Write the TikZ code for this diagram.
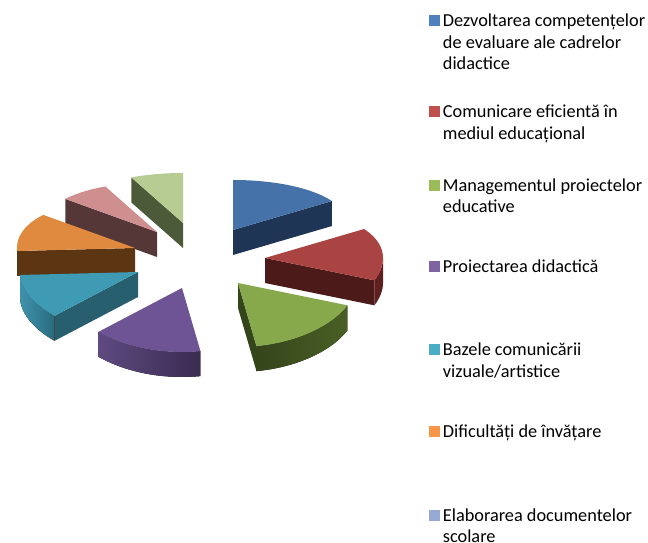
\documentclass[tikz,border=0pt]{standalone}
\usepackage{fontspec}
\setmainfont{Carlito}
\usetikzlibrary{positioning}
\definecolor{lblue}{HTML}{4F81BD}\definecolor{lred}{HTML}{C0504D}\definecolor{lgreen}{HTML}{9BBB59}
\definecolor{lpurple}{HTML}{8064A2}\definecolor{lteal}{HTML}{4BACC6}\definecolor{lorange}{HTML}{F79646}
\definecolor{lpale}{HTML}{95A9D3}
\definecolor{tblue}{HTML}{4672AA}\definecolor{dblue}{HTML}{1F3556}
\definecolor{tred}{HTML}{A94443}\definecolor{dred}{HTML}{4B1A19}\definecolor{rred}{HTML}{5E1F1E}
\definecolor{tgreen}{HTML}{88A84C}\definecolor{dgreen}{HTML}{34451B}\definecolor{rgreen}{HTML}{4A5F25}
\definecolor{tpurple}{HTML}{6E5494}\definecolor{rpurplea}{HTML}{5E4A80}\definecolor{rpurpleb}{HTML}{3A2B50}
\definecolor{tteal}{HTML}{3E9BB3}\definecolor{dteal}{HTML}{285F6E}\definecolor{rteala}{HTML}{3D93AB}\definecolor{rtealb}{HTML}{2A6A7C}
\definecolor{torange}{HTML}{E08A40}\definecolor{dorange}{HTML}{5C3513}
\definecolor{tpink}{HTML}{CE8F8E}\definecolor{dpink}{HTML}{553738}
\definecolor{tpale}{HTML}{B6CC92}\definecolor{dpale}{HTML}{4D5A3A}
% pieces of an exploded slice: apex x, apex y, angles, colour
\newcommand{\slicetop}[5]{\fill[#5] (#1,#2) -- plot[domain=#3:#4,samples=40] ({#1+118*cos(\x)},{#2+sin(\x)*(57-7*sin(\x))}) -- cycle;}
\newcommand{\slicerim}[5]{\fill[#5] plot[domain=#3:#4,samples=40] ({#1+118*cos(\x)},{#2+sin(\x)*(57-7*sin(\x))})
  -- plot[domain=#4:#3,samples=40] ({#1+118*cos(\x)},{#2-25+sin(\x)*(57-7*sin(\x))}) -- cycle;}
\newcommand{\slicecut}[4]{\fill[#4] (#1,#2) -- ({#1+118*cos(#3)},{#2+sin(#3)*(57-7*sin(#3))}) -- ++(0,-25) -- ({#1},{#2-25}) -- cycle;}
\begin{document}
\begin{tikzpicture}[x=1pt,y=1pt,
    key/.style={minimum size=11pt,inner sep=0pt},
    lbl/.style={align=left,inner sep=0pt,anchor=north west,font=\fontsize{18.3}{21.7}\selectfont}]
  \useasboundingbox (0,0) rectangle (648,543);
  \begin{scope}[shift={(200,287)}]
    \slicecut{-17}{33}{116}{dpale} \slicetop{-17}{33}{90}{116}{tpale}
    \slicecut{33}{26}{33}{dblue} \slicetop{33}{26}{33}{90}{tblue}
    \slicecut{-43}{24}{141}{dpink} \slicetop{-43}{24}{116}{141}{tpink}
    \slicecut{-65}{8}{183}{dorange} \slicerim{-65}{8}{180}{183}{dorange} \slicetop{-65}{8}{141}{183}{torange}
    \slicecut{65}{-2}{338}{dred} \slicerim{65}{-2}{338}{360}{rred} \slicetop{65}{-2}{338}{393}{tred}
    \slicecut{-62}{-16}{225}{dteal} \slicerim{-62}{-16}{183}{225}{left color=rteala,right color=rtealb} \slicetop{-62}{-16}{183}{225}{tteal}
    \slicecut{38}{-27}{279}{dgreen} \slicerim{38}{-27}{279}{338}{left color=dgreen,right color=rgreen} \slicetop{38}{-27}{279}{338}{tgreen}
    \slicerim{-18}{-32}{225}{279}{left color=rpurplea,right color=rpurpleb} \slicetop{-18}{-32}{225}{279}{tpurple}
  \end{scope}
  \node[key,fill=lblue] (k1) at (434,522.5) {}; \node[lbl] (t1) at ([xshift=3pt,yshift=7pt]k1.east) {Dezvoltarea competențelor\\de evaluare ale cadrelor\\didactice};
  \node[key,fill=lred] (k2) at (434,431.5) {}; \node[lbl] (t2) at ([xshift=3pt,yshift=7pt]k2.east) {Comunicare eficientă în\\mediul educațional};
  \node[key,fill=lgreen] (k3) at (434,357.7) {}; \node[lbl] (t3) at ([xshift=3pt,yshift=7pt]k3.east) {Managementul proiectelor\\educative};
  \node[key,fill=lpurple] (k4) at (434,276) {}; \node[lbl] (t4) at ([xshift=3pt,yshift=7pt]k4.east) {Proiectarea didactică};
  \node[key,fill=lteal] (k5) at (434,193.3) {}; \node[lbl] (t5) at ([xshift=3pt,yshift=7pt]k5.east) {Bazele comunicării\\vizuale/artistice};
  \node[key,fill=lorange] (k6) at (434,111) {}; \node[lbl] (t6) at ([xshift=3pt,yshift=7pt]k6.east) {Dificultăți de învățare};
  \node[key,fill=lpale] (k7) at (434,27.7) {}; \node[lbl] (t7) at ([xshift=3pt,yshift=7pt]k7.east) {Elaborarea documentelor\\scolare};
\end{tikzpicture}
\end{document}
